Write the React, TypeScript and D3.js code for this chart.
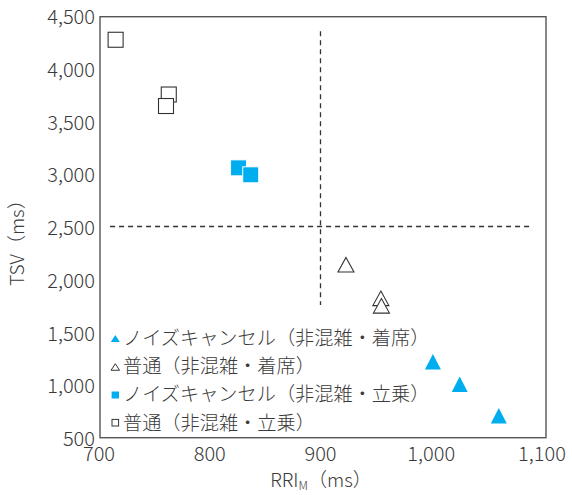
import React from "react";
import * as d3 from "d3";

const xTicks = [700, 800, 900, 1000, 1100];
const yTicks = [500, 1000, 1500, 2000, 2500, 3000, 3500, 4000, 4500];

// 普通（非混雑・立乗）
const normalStandX = [715, 763, 760.5];
const normalStandY = [4270, 3751, 3642];
// ノイズキャンセル（非混雑・立乗）
const ncStandX = [826, 837];
const ncStandY = [3056, 2990];
// 普通（非混雑・着席）
const normalSeatX = [923, 954.5, 955];
const normalSeatY = [2138, 1819, 1748];
// ノイズキャンセル（非混雑・着席）
const ncSeatX = [1001.5, 1025.7, 1061];
const ncSeatY = [1218, 1005, 706];

const legendLabels = [
  "ノイズキャンセル（非混雑・着席）",
  "普通（非混雑・着席）",
  "ノイズキャンセル（非混雑・立乗）",
  "普通（非混雑・立乗）",
];

const thresholdX = 900;
const thresholdY = 2500;

const W = 572;
const H = 495;
const FONT = "'Noto Sans CJK JP', 'Noto Sans', sans-serif";
const TEXT = "#3a3a3a";
const BLUE = "#00AEEF";

const frame = { left: 100, right: 546, top: 16.7, bottom: 437.7 };

const x = d3.scaleLinear().domain([700, 1100]).range([99, 542]);
const y = d3.scaleLinear().domain([500, 4500]).range([437.5, 15.5]);
const fmt = d3.format(",");

function tri(cx: number, cy: number, w: number, h: number) {
  const p = d3.path();
  p.moveTo(cx, cy - h / 2);
  p.lineTo(cx + w / 2, cy + h / 2);
  p.lineTo(cx - w / 2, cy + h / 2);
  p.closePath();
  return p.toString();
}

export default function App() {
  const sq = 15;
  const triW = 16;
  const triH = 14.5;
  const legendY = [336.7, 365, 393.3, 421.7];
  const legendTextX = 123;
  const legendSymX = 115.3;
  return (
    <svg width={W} height={H} style={{ position: "absolute", left: 0, top: 0 }} fontFamily={FONT} fontWeight={300}>
      <rect x={0} y={0} width={W} height={H} fill="#fff" />
      {/* frame */}
      <rect
        x={frame.left}
        y={frame.top}
        width={frame.right - frame.left}
        height={frame.bottom - frame.top}
        fill="none"
        stroke="#555"
        strokeWidth={1.4}
      />
      {/* y tick labels */}
      {yTicks.map((t) => (
        <text key={"y" + t} x={95} y={y(t)} textAnchor="end" dominantBaseline="central" fontSize={20} fill={TEXT}>
          {fmt(t)}
        </text>
      ))}
      {/* x tick labels */}
      {xTicks.map((t) => (
        <text key={"x" + t} x={x(t)} y={461} textAnchor="middle" fontSize={20} fill={TEXT}>
          {fmt(t)}
        </text>
      ))}
      {/* axis titles */}
      <text
        transform={`translate(24, 238) rotate(-90)`}
        textAnchor="middle"
        fontSize={19}
        fill={TEXT}
      >
        TSV（ms）
      </text>
      <text x={321} y={487} textAnchor="middle" fontSize={19} fill={TEXT}>
        RRI<tspan fontSize={12} dy={3}>M</tspan>
        <tspan dy={-3}>（ms）</tspan>
      </text>
      {/* threshold dashed lines */}
      <line
        x1={x(thresholdX)}
        x2={x(thresholdX)}
        y1={y(4350)}
        y2={y(1755)}
        stroke="#333"
        strokeWidth={1.3}
        strokeDasharray="5 4"
      />
      <line
        x1={x(710)}
        x2={x(1092)}
        y1={y(thresholdY)}
        y2={y(thresholdY)}
        stroke="#333"
        strokeWidth={1.3}
        strokeDasharray="5 4"
      />
      {/* open squares */}
      {normalStandX.map((v, i) => (
        <rect
          key={"ns" + i}
          x={x(v) - sq / 2}
          y={y(normalStandY[i]) - sq / 2}
          width={sq}
          height={sq}
          fill="#fff"
          stroke="#333"
          strokeWidth={1.1}
        />
      ))}
      {/* blue squares */}
      {ncStandX.map((v, i) => (
        <rect
          key={"cs" + i}
          x={x(v) - 8}
          y={y(ncStandY[i]) - 8}
          width={16}
          height={16}
          fill={BLUE}
          stroke="#fff"
          strokeWidth={1}
        />
      ))}
      {/* open triangles */}
      {normalSeatX.map((v, i) => (
        <path
          key={"nt" + i}
          d={tri(x(v), y(normalSeatY[i]), triW, triH)}
          fill="#fff"
          stroke="#333"
          strokeWidth={1.1}
        />
      ))}
      {/* blue triangles */}
      {ncSeatX.map((v, i) => (
        <path key={"ct" + i} d={tri(x(v), y(ncSeatY[i]), triW, 15.5)} fill={BLUE} />
      ))}
      {/* legend */}
      <path d={tri(legendSymX, legendY[0] + 1.7, 9, 7)} fill={BLUE} />
      <path d={tri(legendSymX, legendY[1] + 2, 8.5, 6.5)} fill="#fff" stroke="#333" strokeWidth={1} />
      <rect x={legendSymX - 3.7} y={legendY[2] - 3.3 + 1.5} width={7.4} height={7} fill={BLUE} />
      <rect x={legendSymX - 3.3} y={legendY[3] - 3.3 + 1} width={6.6} height={6.6} fill="#fff" stroke="#333" strokeWidth={1} />
      {legendLabels.map((l, i) => (
        <text key={"l" + i} x={legendTextX} y={legendY[i]} dominantBaseline="central" fontSize={19.2} fill={TEXT}>
          {l}
        </text>
      ))}
    </svg>
  );
}
